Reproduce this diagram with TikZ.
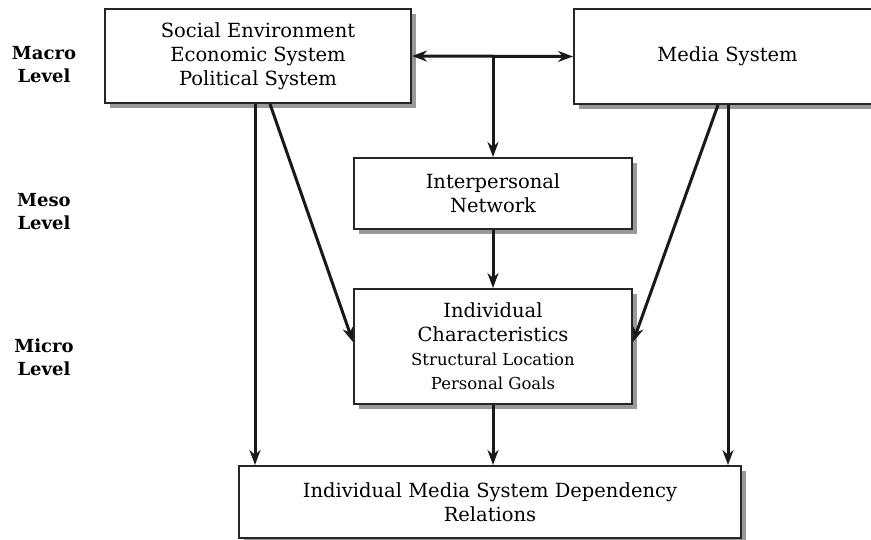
\documentclass[tikz,border=0pt]{standalone}
\usepackage{fontspec}
\setmainfont{DejaVu Serif}
\usetikzlibrary{arrows.meta,shadows}
\begin{document}
\begin{tikzpicture}[x=1pt,y=-1pt,
  box/.style={draw=black!85, line width=2pt, fill=white, inner sep=0pt, align=center,
    font=\fontsize{19.5}{24}\selectfont,
    general shadow={fill=black!40, shadow xshift=5pt, shadow yshift=-5pt}},
  lvl/.style={align=center, font=\bfseries\fontsize{18}{23}\selectfont},
  arr/.style={line width=3pt, draw=black!90, -{Stealth[length=15pt,width=11pt]}},
  dbl/.style={line width=3pt, draw=black!90, {Stealth[length=15pt,width=11pt]}-{Stealth[length=15pt,width=11pt]}}]
\useasboundingbox (0,0) rectangle (871,540);
\clip (0,0) rectangle (871,540);
\node[box, minimum width=306, minimum height=94] (soc) at (258,56)
  {Social Environment\\Economic System\\Political System};
\node[box, minimum width=307, minimum height=95] (med) at (727.5,56.5) {Media System};
\node[box, minimum width=278, minimum height=71] (inter) at (493,193.5) {Interpersonal\\Network};
\node[box, minimum width=278, minimum height=115] (indiv) at (493,346.5)
  {Individual\\Characteristics\\{\fontsize{16.5}{24}\selectfont Structural Location}\\{\fontsize{16.5}{24}\selectfont Personal Goals}};
\node[box, minimum width=502, minimum height=72] (dep) at (490,502)
  {Individual Media System Dependency\\Relations};
\node[lvl] (macro) at (44,64.5) {Macro\\Level};
\node[lvl] (meso) at (44,211.5) {Meso\\Level};
\node[lvl] (micro) at (44,357) {Micro\\Level};
\coordinate (j) at (493,56);
\draw[dbl] (soc.east) -- (med.west);
\draw[arr] (j) -- (inter.north);
\draw[arr] (inter.south) -- (indiv.north);
\draw[arr] (indiv.south) -- (indiv.south |- dep.north);
\draw[arr] ([xshift=-3pt]soc.south) -- ([xshift=-3pt]soc.south |- dep.north);
\draw[arr] ([xshift=12pt]soc.south) -- ([yshift=4.5pt]indiv.west);
\draw[arr] ([xshift=-9.5pt]med.south) -- ([yshift=4.5pt]indiv.east);
\draw[arr] ([xshift=0.5pt]med.south) -- ([xshift=0.5pt]med.south |- dep.north);
\end{tikzpicture}
\end{document}
